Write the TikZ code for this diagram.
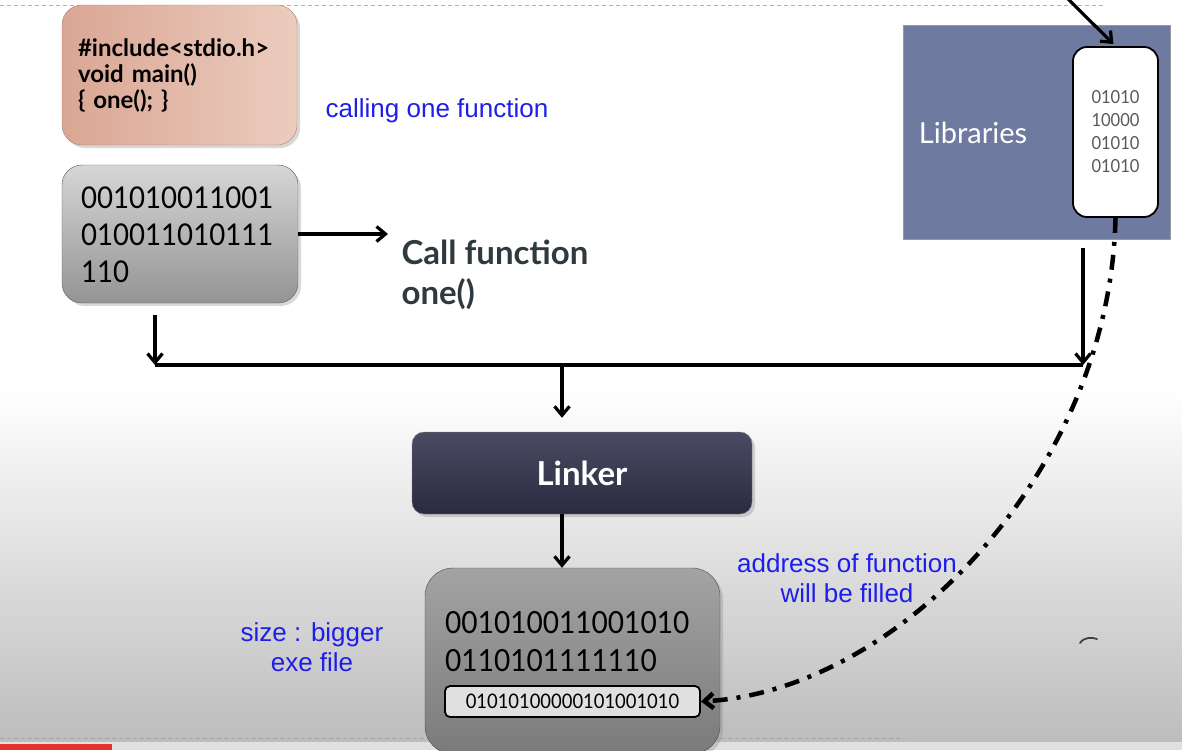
\documentclass[tikz,border=0pt]{standalone}
\usepackage{fontspec}
\setmainfont{Lato}
\newfontfamily\notefont{Liberation Sans}
\newfontfamily\bitfont[FakeStretch=0.92]{Lato}
\usetikzlibrary{arrows.meta,shadows}
\definecolor{notes}{RGB}{30,30,235}
\definecolor{srcleft}{RGB}{218,166,148}
\definecolor{srcright}{RGB}{236,204,190}
\definecolor{libblue}{RGB}{111,122,160}
\definecolor{linktop}{RGB}{74,75,98}
\definecolor{linkbot}{RGB}{42,43,64}
\definecolor{calltext}{RGB}{47,58,62}
\definecolor{barred}{RGB}{228,50,44}

\begin{document}
\begin{tikzpicture}[x=1pt, y=-1pt, >={Straight Barb[length=9pt,width=15pt]},
        box/.style={draw, rounded corners=20pt, drop shadow={shadow xshift=3pt, shadow yshift=-3pt, opacity=0.3}},
        note/.style={text=notes, font=\notefont\fontsize{26}{30}\selectfont, align=center},
        link/.style={line width=3.2pt}]
        \clip (0,0) rectangle (1182,750);

        % Background
        \fill[white] (0,0) rectangle (1182,750);
        \shade[top color=white, bottom color=black!26] (0,390) rectangle (1182,742);
        \fill[black!12] (0,742) rectangle (1182,750);
        \fill[barred] (0,744) rectangle (112,750);
        \draw[black!30, dash pattern=on 4pt off 3pt, line width=1pt] (0,5) -- (1105,5);
        \draw[black!35, dash pattern=on 4pt off 3pt, line width=1pt] (0,738) -- (905,738);

        % Nodes
        \node[box, draw=srcleft!80!black, left color=srcleft, right color=srcright, inner xsep=16pt, minimum height=140pt, text width=203pt, align=left, font=\bfseries\fontsize{24}{26}\selectfont] (src) at (179.5,75) {\#include<stdio.h>\\void main()\\\{ one(); \}};
        \node[box, draw=black!65, top color=black!16, bottom color=black!42, minimum width=236pt, minimum height=138pt] (obj) at (180,234) {};
        \node[anchor=north west, align=left, inner sep=0pt, font=\bitfont\fontsize{30}{37}\selectfont] (objtxt) at (81,187) {001010011001\\010011010111\\110};
        \node[note] (calling) at (437,111) {calling one function};
        \node[anchor=west, align=left, text=calltext, font=\bfseries\fontsize{33}{40}\selectfont] (callfn) at (398,275) {Call function\\one()};

        \node[draw=black!40, fill=libblue, minimum width=267pt, minimum height=214pt] (libs) at (1036.5,132) {};
        \node[text=white, font=\fontsize{29}{34}\selectfont] (libtxt) at (973,133) {Libraries};
        \node[draw, line width=1.8pt, fill=white, rounded corners=14pt, minimum width=85pt, minimum height=170pt, align=center, text=black!65, font=\bitfont\fontsize{18}{23}\selectfont] (libbin) at (1115.5,132) {01010\\10000\\01010\\01010};

        \node[box, draw=black!50, top color=linktop, bottom color=linkbot, rounded corners=12pt, minimum width=340pt, minimum height=82pt, text=white, font=\bfseries\fontsize{33}{36}\selectfont] (linker) at (582,473) {Linker};

        \node[box, draw=black!70, top color=black!36, bottom color=black!52, rounded corners=28pt, minimum width=295pt, minimum height=186pt] (exe) at (572.5,661) {};
        \node[anchor=north west, align=left, inner sep=0pt, font=\bitfont\fontsize{30.5}{38}\selectfont] (exetxt) at (445,611) {001010011001010\\0110101111110};
        \node[draw, line width=1.8pt, fill=black!12, rounded corners=5pt, minimum width=255pt, minimum height=31pt, inner sep=0pt, font=\bitfont\fontsize{20}{20}\selectfont] (exebin) at (572.5,701.5) {01010100000101001010};

        \node[note] (addr) at (847,578) {address of function\\will be filled};
        \node[note] (size) at (312,647) {size : bigger\\exe file};

        \coordinate (left) at (155,365);
        \coordinate (right) at (1083,365);
        \coordinate (mid) at (562,365);
        \coordinate (feed) at (1065,-4);

        % Edges
        \draw[link, ->, shorten >=10pt] (obj.east) -- (obj.east -| callfn.west);
        \draw[link, ->, shorten <=12pt] (obj.south -| left) -- (left);
        \draw[link] (left) -- (right);
        \draw[link, ->, shorten <=9pt] (libs.south -| right) -- (right);
        \draw[link, ->, shorten >=14pt] (mid) -- (mid |- linker.north);
        \draw[link, ->] (linker.south -| mid) -- (mid |- exe.north);
        \draw[link, ->, shorten >=3pt] (feed) -- (libbin.north);
        \draw[line width=4.5pt, dash pattern=on 15pt off 9pt on 4pt off 9pt, ->] (libbin.south) .. controls (1110,470) and (900,690) .. (exebin.east);

        \draw[line width=1.8pt, black!75, line cap=round] (1080,643) .. controls (1084,637) and (1092,637) .. (1097,639);
    \end{tikzpicture}
\end{document}
